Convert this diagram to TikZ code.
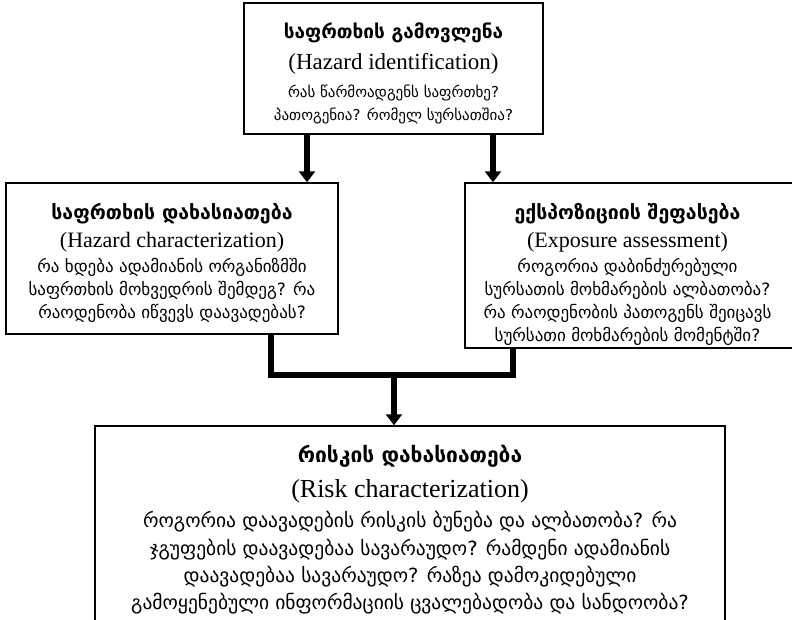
\documentclass[tikz,border=0pt]{standalone}
\usepackage{fontspec}
\setmainfont{Liberation Serif}
\newfontfamily\geo{DejaVu Sans}
\usetikzlibrary{arrows.meta,positioning}

\newcommand\stitle[1]{{\geo\bfseries\fontsize{19.5}{23}\selectfont #1}}
\newcommand\slatin[1]{{\fontsize{22}{23}\selectfont #1}}
\newcommand\sbody[1]{{\geo\fontsize{17}{23}\selectfont #1}}

\begin{document}
\begin{tikzpicture}[x=1pt, y=-1pt, >={Triangle[width=16pt,length=11pt]},
  stage/.style={draw, line width=1.5pt, inner sep=0pt},
  stagetxt/.style={align=center, inner sep=0pt, font=\fontsize{15}{23}\selectfont},
  flow/.style={line width=5.5pt}]
\useasboundingbox (0,0) rectangle (792,619);
% the four stages (right and bottom boxes run off the page)
\node[stage, minimum width=299pt, minimum height=131pt] (ident) at (393.5,68.5) {};
\node[stage, minimum width=332pt, minimum height=151pt] (hazard) at (172,258.5) {};
\node[stage, minimum width=335pt, minimum height=165pt] (expo) at (632.5,265.5) {};
\node[stage, minimum width=630pt, minimum height=214pt] (risk) at (410,533) {};
% texts
\node[stagetxt, below=20pt of ident.north, font=\fontsize{15}{23}\selectfont] (identtxt)
  {{\geo\bfseries\fontsize{19}{23}\selectfont საფრთხის გამოვლენა}\\[8pt]
   {\fontsize{23}{23}\selectfont (Hazard identification)}\\[5pt]
   {\geo რას წარმოადგენს საფრთხე?}\\
   {\geo პათოგენია? რომელ სურსათშია?}};
\node[stagetxt, below=21pt of hazard.north] (hazardtxt)
  {\stitle{საფრთხის დახასიათება}\\[5pt]
   \slatin{(Hazard characterization)}\\[2pt]
   \sbody{რა ხდება ადამიანის ორგანიზმში}\\
   \sbody{საფრთხის მოხვედრის შემდეგ? რა}\\
   \sbody{რაოდენობა იწვევს დაავადებას?}};
\node[stagetxt, below=21pt of expo.north, xshift=-5pt] (expotxt)
  {\stitle{ექსპოზიციის შეფასება}\\[5pt]
   \slatin{(Exposure assessment)}\\[2pt]
   \sbody{როგორია დაბინძურებული}\\
   \sbody{სურსათის მოხმარების ალბათობა?}\\
   \sbody{რა რაოდენობის პათოგენს შეიცავს}\\
   \sbody{სურსათი მოხმარების მომენტში?}};
\node[stagetxt, below=20pt of risk.north, font=\fontsize{19.5}{27.3}\selectfont] (risktxt)
  {{\geo\bfseries\fontsize{21}{27.3}\selectfont რისკის დახასიათება}\\[7.7pt]
   {\fontsize{26}{27.3}\selectfont (Risk characterization)}\\[2.7pt]
   {\geo როგორია დაავადების რისკის ბუნება და ალბათობა? რა}\\
   {\geo ჯგუფების დაავადებაა სავარაუდო? რამდენი ადამიანის}\\
   {\geo დაავადებაა სავარაუდო? რაზეა დამოკიდებული}\\
   {\geo გამოყენებული ინფორმაციის ცვალებადობა და სანდოობა?}};
% connectors
\draw[flow, ->] ([xshift=-86.5pt]ident.south) -- ([xshift=-86.5pt]ident.south |- hazard.north);
\draw[flow, ->] ([xshift=99.5pt]ident.south) -- ([xshift=99.5pt]ident.south |- expo.north);
\coordinate (merge) at (394,375);
\draw[flow] ([xshift=99pt]hazard.south) |- (merge) -| ([xshift=-119.5pt]expo.south);
\draw[flow, ->] (merge) -- (merge |- risk.north);
\end{tikzpicture}
\end{document}
